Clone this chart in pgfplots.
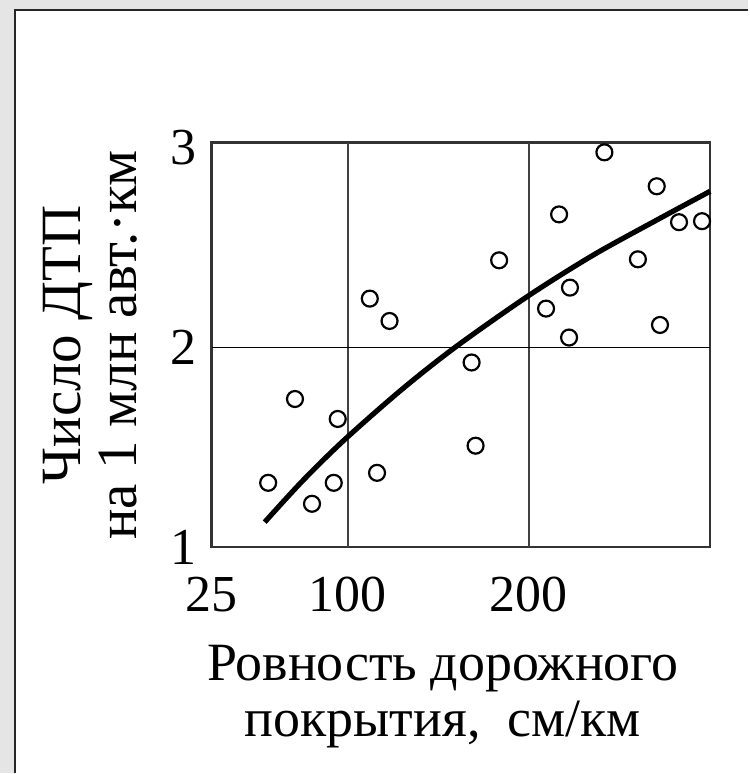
\documentclass[border=0pt]{standalone}
\usepackage{fontspec}
\setmainfont{Liberation Serif}
\usepackage{pgfplots}
\usepackage{pgfplotstable}
\pgfplotsset{compat=1.18}

% измерения (точки)
\pgfplotstableread{
x y
56.2 1.322
71.0 1.742
80.4 1.217
92.4 1.322
94.6 1.642
116.3 1.372
112.3 2.245
123.2 2.133
168.5 1.925
170.7 1.508
183.7 2.437
209.6 2.195
216.8 2.667
222.3 2.050
222.8 2.300
241.8 2.978
260.3 2.442
270.7 2.808
272.5 2.113
283.0 2.628
295.7 2.633
}\points

% аппроксимирующая кривая
\pgfplotstableread{
x y
54.3 1.125
75.0 1.330
98.0 1.535
130.0 1.790
160.0 2.005
200.0 2.260
236.0 2.465
272.0 2.645
300.2 2.783
}\trend

\begin{document}
\begin{tikzpicture}
% фон и рамка
\fill[black!10] (0,0) rectangle (374.5pt,387pt);
\fill[white] (7.5pt,0) rectangle (374.5pt,382pt);
\draw[line width=1.3pt, black!85] (7.5pt,0) -- (7.5pt,382pt) -- (374.5pt,382pt);

\begin{axis}[
    at={(106pt,113pt)}, anchor=south west,
    scale only axis,
    width=249.5pt, height=202.5pt,
    xmin=25, xmax=300,
    ymin=1, ymax=3.026,
    xtick={25,100,200},
    ytick={1,2,3},
    major tick length=0pt,
    extra x ticks={100,200}, extra x tick labels={},
    extra y ticks={2}, extra y tick labels={},
    extra x tick style={grid=major, major grid style={line width=1pt, black!75}},
    extra y tick style={grid=major, major grid style={line width=0.8pt, black}},
    axis line style={line width=1.3pt, black!80},
    clip=false,
    /pgf/number format/assume math mode=true,
    tick label style={font=\fontsize{26}{26}\selectfont},
    xticklabel style={anchor=base, yshift=-32.5pt},
    yticklabel style={anchor=east, xshift=-4pt},
    label style={align=center},
    xlabel={Ровность дорожного\\покрытия,\ \ см/км},
    xlabel style={font=\fontsize{27}{28}\selectfont, at={(axis description cs:0.5,0)}, anchor=center, yshift=-75pt, xshift=-9pt},
    ylabel={Число ДТП\\на 1 млн авт.·км},
    ylabel style={font=\fontsize{28.5}{28}\selectfont, at={(axis description cs:0,0.5)}, anchor=center, yshift=61pt},
]
\addplot[only marks, mark=o, mark size=4pt, mark options={line width=1.1pt, black}] table {\points};
\addplot[smooth, line width=2.6pt, black] table {\trend};
\end{axis}
\end{tikzpicture}
\end{document}
